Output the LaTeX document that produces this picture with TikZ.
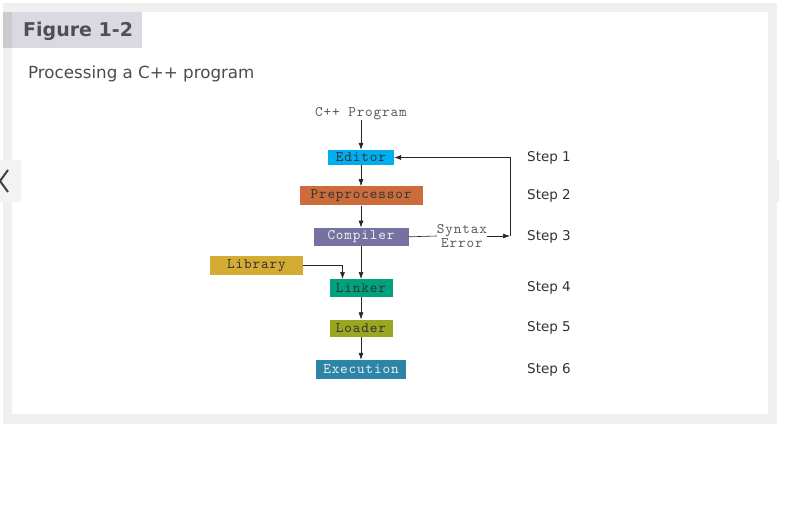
\documentclass[tikz,border=0pt]{standalone}
\usepackage{fontspec}
\setmainfont{DejaVu Sans}
\newfontfamily\codefont{lmmono10-regular.otf}[LetterSpace=6]
\usetikzlibrary{positioning, arrows.meta}

\definecolor{framegray}{HTML}{F0F0F0}
\definecolor{tabgray}{HTML}{DAD9E2}
\definecolor{tabedge}{HTML}{CBCBCB}
\definecolor{titlegray}{HTML}{4F4F4F}
\definecolor{editorcol}{HTML}{00AEEF}
\definecolor{preproccol}{HTML}{CB6C3A}
\definecolor{compilercol}{HTML}{7572A2}
\definecolor{librarycol}{HTML}{D3AC33}
\definecolor{linkercol}{HTML}{00A27D}
\definecolor{loadercol}{HTML}{9BA620}
\definecolor{execcol}{HTML}{2C84A6}

\begin{document}
\begin{tikzpicture}[x=1pt,y=-1pt,
    stage/.style={draw=none, inner sep=0pt, minimum height=18pt,
                  font=\codefont\fontsize{14.5}{15}\selectfont},
    darktext/.style={text=black!80},
    lighttext/.style={text=white!94!black},
    steplbl/.style={anchor=west, inner sep=0pt, text=black!80,
                    font=\fontsize{13.5}{14}\selectfont},
    note/.style={inner sep=0pt, text=black!65, align=center,
                 font=\codefont\fontsize{14.5}{12}\selectfont},
    flow/.style={-{Latex[length=7pt,width=5pt]}, draw=black!85, line width=0.6pt}]
    \useasboundingbox (0,0) rectangle (800,532);
    % page frame
    \fill[white] (0,0) rectangle (800,532);
    \fill[framegray] (3,3) rectangle (777,424);
    \fill[white] (12,12) rectangle (768,414);
    \fill[tabgray] (3,12) rectangle (142,48);
    \fill[tabedge] (3,12) rectangle (12,48);
    \node[anchor=west, inner sep=0pt, text=titlegray,
          font=\bfseries\fontsize{19}{20}\selectfont] (title) at (23,31) {Figure 1-2};
    \node[anchor=west, inner sep=0pt, text=black!70,
          font=\fontsize{16.7}{18}\selectfont] (caption) at (28,74) {Processing a C++ program};
    % side buttons
    \fill[framegray!80!white, rounded corners=2pt] (-5,160) rectangle (21,202);
    \draw[black!75, line width=2pt] (8,170) -- (0,181) -- (8,192);
    \fill[framegray] (775,160) rectangle (779,202);

    % Add the stages
    \node[stage, darktext, fill=editorcol, minimum width=66pt,
          minimum height=15pt] (editor) at (361,157.5) {Editor};
    \node[stage, darktext, fill=preproccol, minimum width=123pt,
          minimum height=19pt, below=21pt of editor] (preproc) {Preprocessor};
    \node[stage, lighttext, fill=compilercol, minimum width=95pt,
          below=22pt of preproc] (compiler) {Compiler};
    \node[stage, darktext, fill=linkercol, minimum width=63pt,
          below=33pt of compiler] (linker) {Linker};
    \node[stage, darktext, fill=loadercol, minimum width=63pt,
          minimum height=17pt, below=22pt of linker] (loader) {Loader};
    \node[stage, lighttext, fill=execcol, minimum width=90pt,
          minimum height=19pt, below=23pt of loader] (exec) {Execution};
    \node[stage, darktext, fill=librarycol, minimum width=93pt,
          minimum height=19pt] (library) at (256.5,265.5) {Library};

    \node[note] (source) at (361,114) {C++ Program};
    \node[note] (syntax) at (462,236) {Syntax\\Error};
    \coordinate (back) at (510,236);

    % Steps
    \coordinate (stepcol) at (527,0);
    \node[steplbl] (s1) at (stepcol |- editor) {Step 1};
    \node[steplbl] (s2) at (stepcol |- preproc) {Step 2};
    \node[steplbl] (s3) at (stepcol |- compiler) {Step 3};
    \node[steplbl] (s4) at (stepcol |- linker) {Step 4};
    \node[steplbl] (s5) at (stepcol |- loader) {Step 5};
    \node[steplbl] (s6) at (stepcol |- exec) {Step 6};

    % Connectors
    \draw[flow] (source) -- (editor);
    \draw[flow] (editor) -- (preproc);
    \draw[flow] (preproc) -- (compiler);
    \draw[flow] (compiler) -- (linker);
    \draw[flow] (linker) -- (loader);
    \draw[flow] (loader) -- (exec);
    \draw[flow] (library.east) -| ([xshift=-18.5pt]linker.north);
    \draw[flow, -] (compiler.east) -- (syntax.west);
    \draw[flow] (syntax.east) -- (back);
    \draw[flow] (back) |- (editor.east);
\end{tikzpicture}
\end{document}
